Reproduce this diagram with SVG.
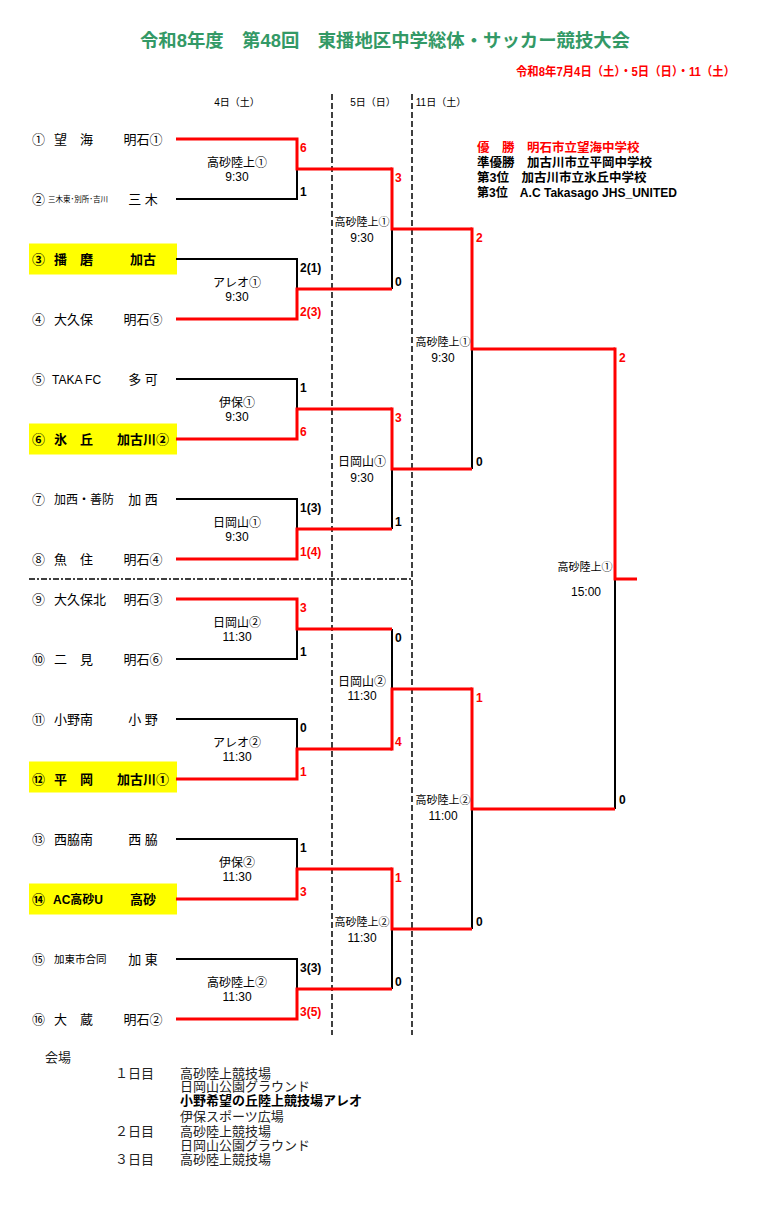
<svg xmlns="http://www.w3.org/2000/svg" width="772" height="1205" viewBox="0 0 772 1205">
<style>
text{font-family:"Liberation Sans","Noto Sans CJK JP",sans-serif;fill:#000}
.title{font-size:18px;font-weight:bold;fill:#339966}
.date{font-size:12px;font-weight:bold;fill:#f00}
.hdr{font-size:10px;text-anchor:middle}
.tm{font-size:13px}
.sc{font-size:13px;text-anchor:middle}
.b{font-weight:bold}
.lbl{font-size:12px;text-anchor:middle}
.lbs{font-size:11px;text-anchor:middle}
.score{font-size:12px;font-weight:bold}
.rs{fill:#f00}
.res{font-size:12.5px;font-weight:bold}
.ven{font-size:13px;fill:#222}
.hl{fill:#ffff00}
.red{stroke:#f00;stroke-width:3;fill:none;stroke-linejoin:miter}
.blk{stroke:#000;stroke-width:2;fill:none}
.dash{stroke:#000;stroke-width:1.5;stroke-dasharray:6,3;fill:none}
.dd{stroke:#000;stroke-width:1.5;stroke-dasharray:6,2,2,2;fill:none}
</style>

<g id="header">
<text class="title" x="140" y="47" textLength="490" lengthAdjust="spacingAndGlyphs">令和8年度　第48回　東播地区中学総体・サッカー競技大会</text>
<text class="date" x="516" y="76" textLength="219" lengthAdjust="spacingAndGlyphs">令和8年7月4日（土）・5日（日）・11（土）</text>
<text class="hdr" x="237" y="106">4日（土）</text>
<text class="hdr" x="373" y="106">5日（日）</text>
<text class="hdr" x="441" y="106">11日（土）</text>
</g>

<g id="guides">
<line class="dash" x1="332" y1="94" x2="332" y2="1035"/>
<line class="dash" x1="412" y1="94" x2="412" y2="1035"/>
<line class="dd" x1="29" y1="579" x2="412" y2="579"/>
</g>

<g id="results">
<text class="res rs" x="477" y="152">優　勝　明石市立望海中学校</text>
<text class="res" x="477" y="167">準優勝　加古川市立平岡中学校</text>
<text class="res" x="477" y="182">第3位　加古川市立氷丘中学校</text>
<text class="res" x="477" y="197" textLength="200" lengthAdjust="spacingAndGlyphs">第3位　A.C Takasago JHS_UNITED</text>
</g>

<g id="teams">
<g id="team1"><text class="tm" x="32" y="143.5">①</text><text class="tm" x="54" y="143.5">望　海</text><text class="sc" x="143" y="143.5">明石①</text></g>
<g id="team2"><text class="tm" x="32" y="203.5">②</text><text x="48" y="202" style="font-size:7.5px">三木東･別所･吉川</text><text class="sc" x="143" y="203.5">三 木</text></g>
<g id="team3"><rect class="hl" x="29" y="243.5" width="148" height="31"/><text class="tm b" x="32" y="263.5">③</text><text class="tm b" x="54" y="263.5">播　磨</text><text class="sc b" x="143" y="263.5">加古</text></g>
<g id="team4"><text class="tm" x="32" y="323.5">④</text><text class="tm" x="54" y="323.5">大久保</text><text class="sc" x="143" y="323.5">明石⑤</text></g>
<g id="team5"><text class="tm" x="32" y="383.5">⑤</text><text x="52" y="383.5" style="font-size:12px">TAKA FC</text><text class="sc" x="143" y="383.5">多 可</text></g>
<g id="team6"><rect class="hl" x="29" y="423.5" width="148" height="31"/><text class="tm b" x="32" y="443.5">⑥</text><text class="tm b" x="54" y="443.5">氷　丘</text><text class="sc b" x="143" y="443.5">加古川②</text></g>
<g id="team7"><text class="tm" x="32" y="503.5">⑦</text><text x="54" y="503.5" style="font-size:12px">加西・善防</text><text class="sc" x="143" y="503.5">加 西</text></g>
<g id="team8"><text class="tm" x="32" y="563.5">⑧</text><text class="tm" x="54" y="563.5">魚　住</text><text class="sc" x="143" y="563.5">明石④</text></g>
<g id="team9"><text class="tm" x="32" y="603.5">⑨</text><text class="tm" x="54" y="603.5">大久保北</text><text class="sc" x="143" y="603.5">明石③</text></g>
<g id="team10"><text class="tm" x="32" y="663.5">⑩</text><text class="tm" x="54" y="663.5">二　見</text><text class="sc" x="143" y="663.5">明石⑥</text></g>
<g id="team11"><text class="tm" x="32" y="723.5">⑪</text><text class="tm" x="54" y="723.5">小野南</text><text class="sc" x="143" y="723.5">小 野</text></g>
<g id="team12"><rect class="hl" x="29" y="761.5" width="148" height="31"/><text class="tm b" x="32" y="783.5">⑫</text><text class="tm b" x="54" y="783.5">平　岡</text><text class="sc b" x="143" y="783.5">加古川①</text></g>
<g id="team13"><text class="tm" x="32" y="843.5">⑬</text><text class="tm" x="54" y="843.5">西脇南</text><text class="sc" x="143" y="843.5">西 脇</text></g>
<g id="team14"><rect class="hl" x="29" y="883.5" width="148" height="31"/><text class="tm b" x="32" y="903.5">⑭</text><text x="53" y="903.5" style="font-size:12px;font-weight:bold">AC高砂U</text><text class="sc b" x="143" y="903.5">高砂</text></g>
<g id="team15"><text class="tm" x="32" y="963.5">⑮</text><text x="54" y="963" style="font-size:10.5px">加東市合同</text><text class="sc" x="143" y="963.5">加 東</text></g>
<g id="team16"><text class="tm" x="32" y="1023.5">⑯</text><text class="tm" x="54" y="1023.5">大　蔵</text><text class="sc" x="143" y="1023.5">明石②</text></g>
</g>

<g id="connectors">
<polyline class="blk" points="176,199 297,199 297,169"/>
<polyline class="blk" points="176,259 297,259 297,289"/>
<polyline class="blk" points="176,379 297,379 297,409"/>
<polyline class="blk" points="176,499 297,499 297,529"/>
<polyline class="blk" points="176,659 297,659 297,629"/>
<polyline class="blk" points="176,719 297,719 297,749"/>
<polyline class="blk" points="176,839 297,839 297,869"/>
<polyline class="blk" points="176,959 297,959 297,989"/>
<polyline class="blk" points="392,289 392,229"/>
<polyline class="blk" points="392,529 392,469"/>
<polyline class="blk" points="392,629 392,689"/>
<polyline class="blk" points="392,989 392,929"/>
<polyline class="blk" points="472,469 472,349"/>
<polyline class="blk" points="472,929 472,809"/>
<polyline class="blk" points="615,809 615,579"/>
<polyline class="red" points="176,139 297,139 297,169 392,169"/>
<polyline class="red" points="176,319 297,319 297,289 392,289"/>
<polyline class="red" points="176,439 297,439 297,409 392,409"/>
<polyline class="red" points="176,559 297,559 297,529 392,529"/>
<polyline class="red" points="176,599 297,599 297,629 392,629"/>
<polyline class="red" points="176,779 297,779 297,749 392,749"/>
<polyline class="red" points="176,899 297,899 297,869 392,869"/>
<polyline class="red" points="176,1019 297,1019 297,989 392,989"/>
<polyline class="red" points="390.5,169 392,169 392,229 472,229"/>
<polyline class="red" points="390.5,409 392,409 392,469 472,469"/>
<polyline class="red" points="390.5,749 392,749 392,689 472,689"/>
<polyline class="red" points="390.5,869 392,869 392,929 472,929"/>
<polyline class="red" points="470.5,229 472,229 472,349 615,349"/>
<polyline class="red" points="470.5,689 472,689 472,809 615,809"/>
<polyline class="red" points="613.5,349 615,349 615,579 637,579"/>
</g>

<g id="scores">
<text class="score rs" x="300" y="152">6</text><text class="score" x="300" y="196">1</text>
<text class="score" x="300" y="272">2(1)</text><text class="score rs" x="300" y="316">2(3)</text>
<text class="score" x="300" y="392">1</text><text class="score rs" x="300" y="436">6</text>
<text class="score" x="300" y="512">1(3)</text><text class="score rs" x="300" y="556">1(4)</text>
<text class="score rs" x="300" y="612">3</text><text class="score" x="300" y="656">1</text>
<text class="score" x="300" y="732">0</text><text class="score rs" x="300" y="776">1</text>
<text class="score" x="300" y="852">1</text><text class="score rs" x="300" y="896">3</text>
<text class="score" x="300" y="972">3(3)</text><text class="score rs" x="300" y="1016">3(5)</text>
<text class="score rs" x="395" y="182">3</text><text class="score" x="395" y="286">0</text>
<text class="score rs" x="395" y="422">3</text><text class="score" x="395" y="526">1</text>
<text class="score" x="395" y="642">0</text><text class="score rs" x="395" y="746">4</text>
<text class="score rs" x="395" y="882">1</text><text class="score" x="395" y="986">0</text>
<text class="score rs" x="476" y="242">2</text><text class="score" x="476" y="466">0</text>
<text class="score rs" x="476" y="702">1</text><text class="score" x="476" y="926">0</text>
<text class="score rs" x="619" y="362">2</text><text class="score" x="619" y="804">0</text>
</g>

<g id="matches">
<g id="m1"><text class="lbl" x="237" y="166.5">高砂陸上①</text><text class="lbl" x="237" y="180.5">9:30</text></g>
<g id="m2"><text class="lbl" x="237" y="286.5">アレオ①</text><text class="lbl" x="237" y="300.5">9:30</text></g>
<g id="m3"><text class="lbl" x="237" y="406.5">伊保①</text><text class="lbl" x="237" y="420.5">9:30</text></g>
<g id="m4"><text class="lbl" x="237" y="526.5">日岡山①</text><text class="lbl" x="237" y="540.5">9:30</text></g>
<g id="m5"><text class="lbl" x="237" y="626.5">日岡山②</text><text class="lbl" x="237" y="640.5">11:30</text></g>
<g id="m6"><text class="lbl" x="237" y="746.5">アレオ②</text><text class="lbl" x="237" y="760.5">11:30</text></g>
<g id="m7"><text class="lbl" x="237" y="866.5">伊保②</text><text class="lbl" x="237" y="880.5">11:30</text></g>
<g id="m8"><text class="lbl" x="237" y="986.5">高砂陸上②</text><text class="lbl" x="237" y="1000.5">11:30</text></g>
<g id="m9"><text class="lbs" x="362" y="226">高砂陸上①</text><text class="lbl" x="362" y="241.5">9:30</text></g>
<g id="m10"><text class="lbl" x="362" y="466">日岡山①</text><text class="lbl" x="362" y="481.5">9:30</text></g>
<g id="m11"><text class="lbl" x="362" y="685.5">日岡山②</text><text class="lbl" x="362" y="699.5">11:30</text></g>
<g id="m12"><text class="lbs" x="362" y="926">高砂陸上②</text><text class="lbl" x="362" y="941.5">11:30</text></g>
<g id="m13"><text class="lbs" x="443" y="346">高砂陸上①</text><text class="lbl" x="443" y="361.5">9:30</text></g>
<g id="m14"><text class="lbs" x="443" y="804">高砂陸上②</text><text class="lbl" x="443" y="819.5">11:00</text></g>
<g id="m15"><text class="lbs" x="585" y="571">高砂陸上①</text><text class="lbl" x="586" y="595.5">15:00</text></g>
</g>

<g id="venues">
<text class="ven" x="45" y="1062">会場</text>
<text class="ven" x="115" y="1077.5">１日目</text>
<text class="ven" x="180" y="1077.5">高砂陸上競技場</text>
<text class="ven" x="180" y="1090.5">日岡山公園グラウンド</text>
<text class="ven b" x="180" y="1104.5" style="fill:#000">小野希望の丘陸上競技場アレオ</text>
<text class="ven" x="180" y="1120.5">伊保スポーツ広場</text>
<text class="ven" x="115" y="1135.5">２日目</text>
<text class="ven" x="180" y="1135.5">高砂陸上競技場</text>
<text class="ven" x="180" y="1149.5">日岡山公園グラウンド</text>
<text class="ven" x="115" y="1163.5">３日目</text>
<text class="ven" x="180" y="1163.5">高砂陸上競技場</text>
</g>
</svg>
